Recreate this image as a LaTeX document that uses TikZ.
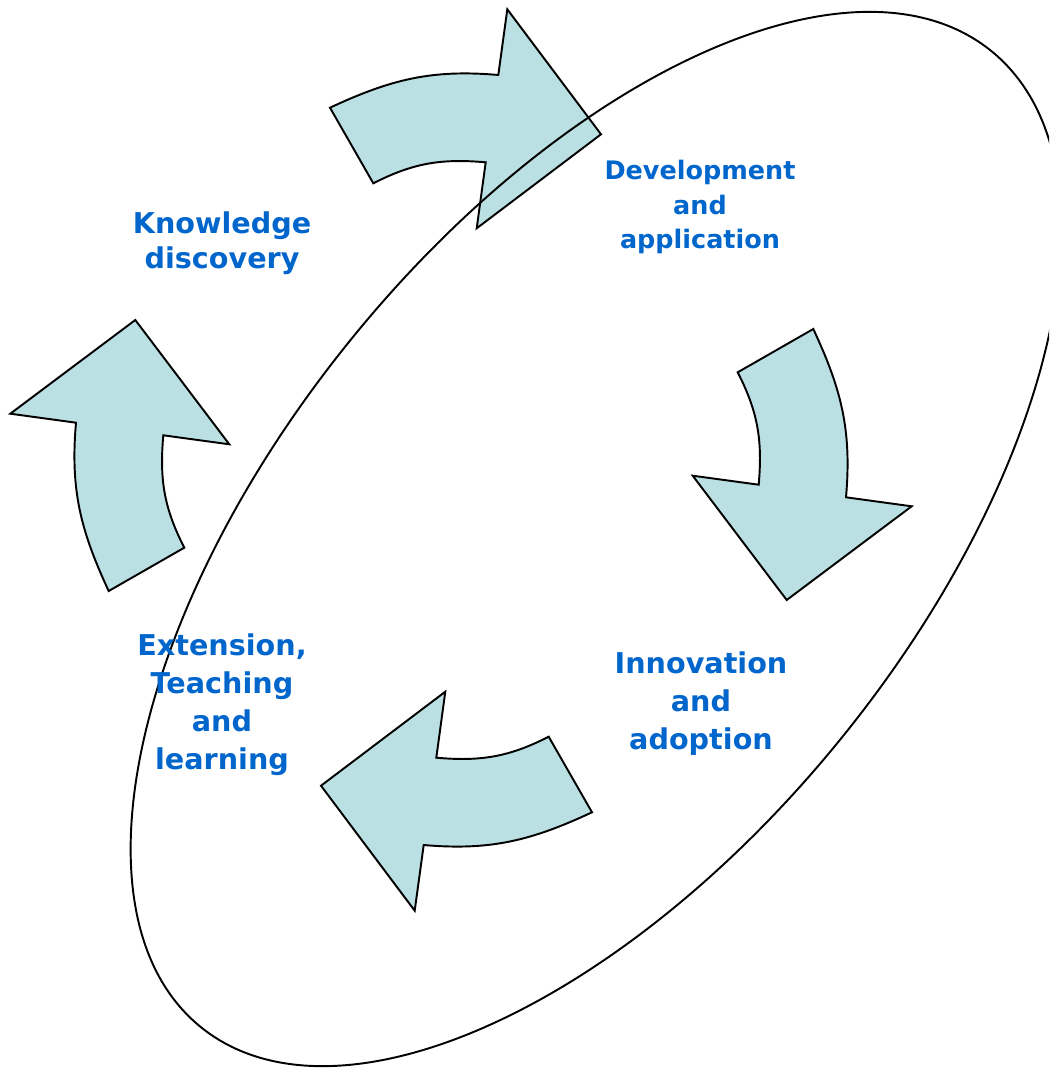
\documentclass[tikz,border=0pt]{standalone}
\usepackage{fontspec}
\setmainfont{DejaVu Sans}
\usepackage{tikz}
\definecolor{arrowfill}{RGB}{187,224,227}
\definecolor{labelblue}{RGB}{0,102,204}

\begin{document}
\begin{tikzpicture}[x=0.02cm,y=-0.02cm,
    cyclearrow/.style={fill=arrowfill,draw=black,line width=1.1pt},
    stage/.style={text=labelblue,font=\bfseries\fontsize{16.3}{21.6}\selectfont,align=center}]
    \useasboundingbox (0,0) rectangle (1049,1068);
    \clip (0,0) rectangle (1049,1068);
    \foreach \a in {0,-90,-180,-270}
        \filldraw[cyclearrow,rotate around={\a:(461,460)}] (330,107.7) to[out=25,in=175] (498.3,75) -- (507.3,9.3) -- (601,134.3) -- (476.7,228.3) -- (485.7,162.3) to[out=175,in=27] (373.3,183.3) -- cycle;
    \draw[line width=1.1pt,rotate around={51:(596,539)}] (596,539) ellipse [x radius=628,y radius=316];
    \node[stage,font=\bfseries\fontsize{16.3}{19.9}\selectfont] (know) at (222,243) {Knowledge\\discovery};
    \node[stage,font=\bfseries\fontsize{14.5}{19.9}\selectfont] (dev) at (700,207) {Development\\and\\application};
    \node[stage] (inno) at (701,704) {Innovation\\and\\adoption};
    \node[stage] (ext) at (222,705) {Extension,\\Teaching\\and\\learning};
\end{tikzpicture}
\end{document}
